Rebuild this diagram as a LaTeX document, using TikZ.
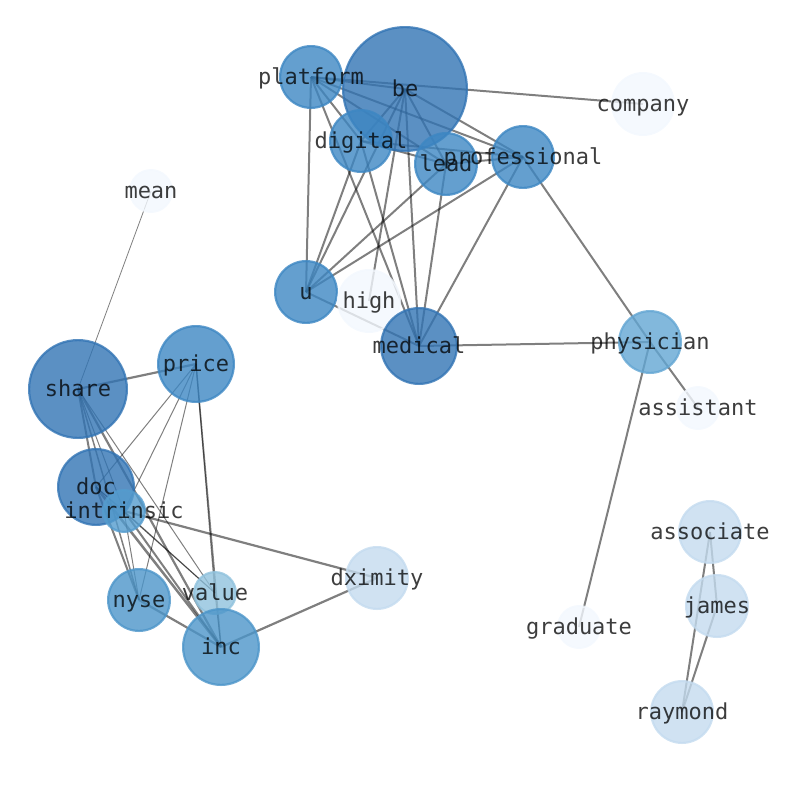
\documentclass[tikz,border=0pt]{standalone}
\usepackage{fontspec}
\setmonofont{DejaVu Sans Mono}
\definecolor{cA}{RGB}{50,116,180}
\definecolor{cB}{RGB}{61,135,195}
\definecolor{cC}{RGB}{76,149,201}
\definecolor{cD}{RGB}{84,156,206}
\definecolor{cE}{RGB}{99,166,211}
\definecolor{cF}{RGB}{144,194,221}
\definecolor{cG}{RGB}{196,219,239}
\definecolor{cH}{RGB}{243,248,254}
\tikzset{
  vtx/.style={circle, inner sep=0pt, outer sep=0pt, line width=2.2pt,
    fill opacity=0.8, draw opacity=0.8, draw=#1, fill=#1},
  lbl/.style={inner sep=0pt, text=black, text opacity=0.76, yshift=-1.5pt,
    font=\ttfamily\fontsize{22}{22}\selectfont},
  lnk/.style={draw=black, draw opacity=0.5, line width=#1},
  lnk/.default=2
}
\newcommand{\vx}[4]{% name, color, radius(px), label
  \node[vtx=#2, minimum size={2*#3-2.2}] (#1-c) at (#1) {};}
\newcommand{\lb}[2]{\node[lbl] (#1-l) at (#1) {\vphantom{lp}#2};}
\begin{document}
\begin{tikzpicture}[x=1pt,y=-1pt]
\useasboundingbox (0,0) rectangle (794,790);
% positions
\coordinate (be) at (405,89);
\coordinate (platform) at (311,77);
\coordinate (company) at (643,104);
\coordinate (digital) at (361,141);
\coordinate (lead) at (446,164);
\coordinate (professional) at (523,157);
\coordinate (mean) at (151,191);
\coordinate (u) at (306,292);
\coordinate (high) at (369,301);
\coordinate (medical) at (419,346);
\coordinate (physician) at (650,342);
\coordinate (assistant) at (698,408);
\coordinate (share) at (78,389);
\coordinate (price) at (196,364);
\coordinate (doc) at (96,487);
\coordinate (intrinsic) at (124,511);
\coordinate (dximity) at (377,578);
\coordinate (value) at (215,593);
\coordinate (nyse) at (139,600);
\coordinate (inc) at (221,647);
\coordinate (associate) at (710,532);
\coordinate (james) at (717,606);
\coordinate (graduate) at (579,627);
\coordinate (raymond) at (682,712);
% edges: top cluster and right side
\foreach \a/\b in {platform/be, platform/digital, platform/lead, platform/professional,
  platform/u, platform/medical, be/digital, be/lead, be/professional, be/u, be/medical,
  digital/lead, digital/professional, digital/u, digital/medical, lead/professional,
  lead/u, lead/medical, professional/u, professional/medical, u/medical,
  platform/company, be/high, professional/physician, physician/assistant,
  medical/physician, physician/graduate, associate/james, associate/raymond, james/raymond}
  \draw[lnk] (\a) -- (\b);
% edges: left cluster
\foreach \a/\b/\w in {share/mean/0.8, share/price/2.2, share/doc/2, share/nyse/1.5,
  share/intrinsic/1, share/inc/2.2, share/value/1, price/doc/1, price/intrinsic/1,
  price/nyse/1, price/value/1.2, price/inc/1.5, doc/intrinsic/1, doc/nyse/2, doc/inc/2.5,
  doc/value/1, intrinsic/nyse/1, intrinsic/value/1, intrinsic/inc/2, intrinsic/dximity/2.2,
  nyse/inc/2.2, inc/dximity/2.2, value/inc/1}
  \draw[lnk=\w] (\a) -- (\b);
% nodes
\vx{be}{cA}{63}{}
\vx{platform}{cB}{32}{}
\vx{company}{cH}{32}{}
\vx{digital}{cB}{32}{}
\vx{lead}{cB}{32}{}
\vx{professional}{cB}{32}{}
\vx{mean}{cH}{22}{}
\vx{u}{cB}{32}{}
\vx{high}{cH}{32}{}
\vx{medical}{cA}{39}{}
\vx{physician}{cE}{32}{}
\vx{assistant}{cH}{22}{}
\vx{share}{cA}{50}{}
\vx{price}{cB}{39}{}
\vx{doc}{cA}{39}{}
\vx{intrinsic}{cD}{22}{}
\vx{dximity}{cG}{32}{}
\vx{value}{cF}{22}{}
\vx{nyse}{cC}{32}{}
\vx{inc}{cC}{39}{}
\vx{associate}{cG}{32}{}
\vx{james}{cG}{32}{}
\vx{graduate}{cH}{22}{}
\vx{raymond}{cG}{32}{}
% labels
\lb{be}{be}
\lb{platform}{platform}
\lb{company}{company}
\lb{digital}{digital}
\lb{lead}{lead}
\lb{professional}{professional}
\lb{mean}{mean}
\lb{u}{u}
\lb{high}{high}
\lb{medical}{medical}
\lb{physician}{physician}
\lb{assistant}{assistant}
\lb{share}{share}
\lb{price}{price}
\lb{doc}{doc}
\lb{intrinsic}{intrinsic}
\lb{dximity}{dximity}
\lb{value}{value}
\lb{nyse}{nyse}
\lb{inc}{inc}
\lb{associate}{associate}
\lb{james}{james}
\lb{graduate}{graduate}
\lb{raymond}{raymond}
\end{tikzpicture}
\end{document}
